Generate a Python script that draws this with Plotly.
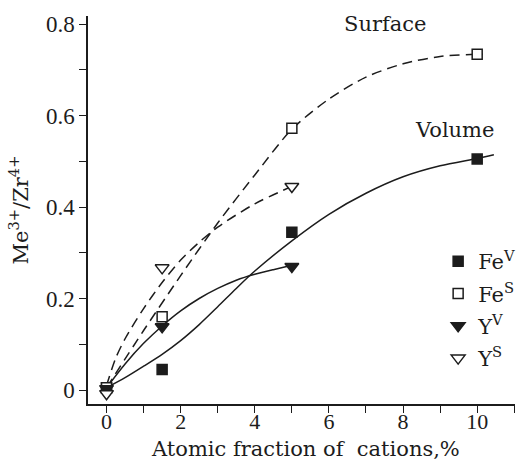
import plotly.graph_objects as go

# Measured points: Me3+/Zr4+ ratio vs atomic fraction of cations (%)
fe_v_x = [0, 1.5, 5, 10]
fe_v_y = [0.005, 0.045, 0.345, 0.505]
fe_s_x = [0, 1.5, 5, 10]
fe_s_y = [0.005, 0.16, 0.572, 0.734]
y_v_x = [0, 1.5, 5]
y_v_y = [0.003, 0.138, 0.27]
y_s_x = [0, 1.5, 5]
y_s_y = [-0.008, 0.267, 0.445]

# Smoothed trend curves
vol_fe_cx = [0, 0.5, 1, 1.5, 2, 2.5, 3, 3.5, 4, 5, 6, 7, 8, 9, 10, 10.45]
vol_fe_cy = [0.005, 0.027, 0.052, 0.078, 0.108, 0.143, 0.182, 0.222, 0.26, 0.326,
             0.384, 0.43, 0.466, 0.49, 0.506, 0.514]
vol_y_cx = [0, 0.5, 1, 1.5, 2, 2.5, 3, 3.5, 4, 4.5, 5]
vol_y_cy = [0.005, 0.057, 0.102, 0.14, 0.173, 0.2, 0.222, 0.24, 0.253, 0.263, 0.272]
surf_fe_cx = [0, 1, 2, 3, 4, 5, 6, 7, 8, 9, 10, 10.15]
surf_fe_cy = [0.005, 0.13, 0.25, 0.365, 0.47, 0.57, 0.636, 0.684, 0.713, 0.729, 0.734, 0.734]
surf_y_cx = [0, 0.25, 0.5, 1, 1.5, 2, 2.5, 3, 4, 5]
surf_y_cy = [0.01, 0.07, 0.112, 0.178, 0.235, 0.284, 0.323, 0.356, 0.407, 0.445]

x_ticks = [0, 2, 4, 6, 8, 10]
y_ticks = [0, 0.2, 0.4, 0.6, 0.8]

INK = "#1c1c1c"
SERIF = "DejaVu Serif"
NUM = "Liberation Serif"

fig = go.Figure()

line_solid = dict(color=INK, width=1.5, shape="spline", smoothing=0.8)
line_dash = dict(color=INK, width=1.5, shape="spline", smoothing=0.8, dash="10px,6px")

for cx, cy, ln in [(vol_fe_cx, vol_fe_cy, line_solid), (vol_y_cx, vol_y_cy, line_solid),
                   (surf_fe_cx, surf_fe_cy, line_dash), (surf_y_cx, surf_y_cy, line_dash)]:
    fig.add_trace(go.Scatter(x=cx, y=cy, mode="lines", line=ln,
                             showlegend=False, hoverinfo="skip"))

series = [
    ("Fe<sup>V</sup>", fe_v_x, fe_v_y, "square", INK, 10),
    ("Fe<sup>S</sup>", fe_s_x, fe_s_y, "square", "white", 10),
    ("Y<sup>V</sup>", y_v_x, y_v_y, "triangle-down", INK, 12),
    ("Y<sup>S</sup>", y_s_x, y_s_y, "triangle-down", "white", 12),
]
for i, (name, xs, ys, sym, fill, size) in enumerate(series):
    fig.add_trace(go.Scatter(
        x=xs, y=ys, mode="markers", name=name, legendgroup=f"g{i}",
        marker=dict(symbol=sym, size=size, color=fill,
                    line=dict(color=INK, width=1.5)),
    ))

fig.add_annotation(x=7.5, y=0.80, xref="x", yref="y", text="Surface", showarrow=False,
                   font=dict(family=SERIF, size=21, color=INK))
fig.add_annotation(x=9.4, y=0.568, xref="x", yref="y", text="Volume", showarrow=False,
                   font=dict(family=SERIF, size=21, color=INK))
# x-axis title
fig.add_annotation(x=0.51, y=-0.152, xref="paper", yref="paper", xanchor="center",
                   yanchor="bottom", text="Atomic fraction of  cations,%", showarrow=False,
                   font=dict(family=SERIF, size=21, color=INK))

axis_common = dict(
    showline=True, linecolor=INK, linewidth=1.5, mirror=False,
    ticks="outside", ticklen=7, tickwidth=1.3, tickcolor=INK,
    showgrid=False, zeroline=False,
)

fig.update_layout(
    width=521, height=460,
    margin=dict(l=88, r=1, t=16, b=56),
    paper_bgcolor="white", plot_bgcolor="white",
    font=dict(family=SERIF, color=INK),
    xaxis=dict(
        range=[-0.5, 11.02], tickvals=x_ticks, ticklabelstandoff=-10,
        tickfont=dict(family=NUM, size=22, color=INK),
        minor=dict(dtick=1, tick0=0, ticks="outside", ticklen=7, tickwidth=1.3, tickcolor=INK),
        **axis_common,
    ),
    yaxis=dict(
        range=[-0.0306, 0.8175], tickvals=y_ticks,
        tickfont=dict(family=NUM, size=23, color=INK),
        minor=dict(dtick=0.1, tick0=0, ticks="outside", ticklen=7, tickwidth=1.3, tickcolor=INK),
        title=dict(text="Me<sup>3+</sup>/Zr<sup>4+</sup>", standoff=12,
                   font=dict(family=SERIF, size=21, color=INK)),
        **axis_common,
    ),
    legend=dict(x=0.82, y=0.42, xanchor="left", yanchor="top",
                bgcolor="rgba(0,0,0,0)", tracegroupgap=2,
                font=dict(family=SERIF, size=21, color=INK)),
)

fig.write_html("out.html")
